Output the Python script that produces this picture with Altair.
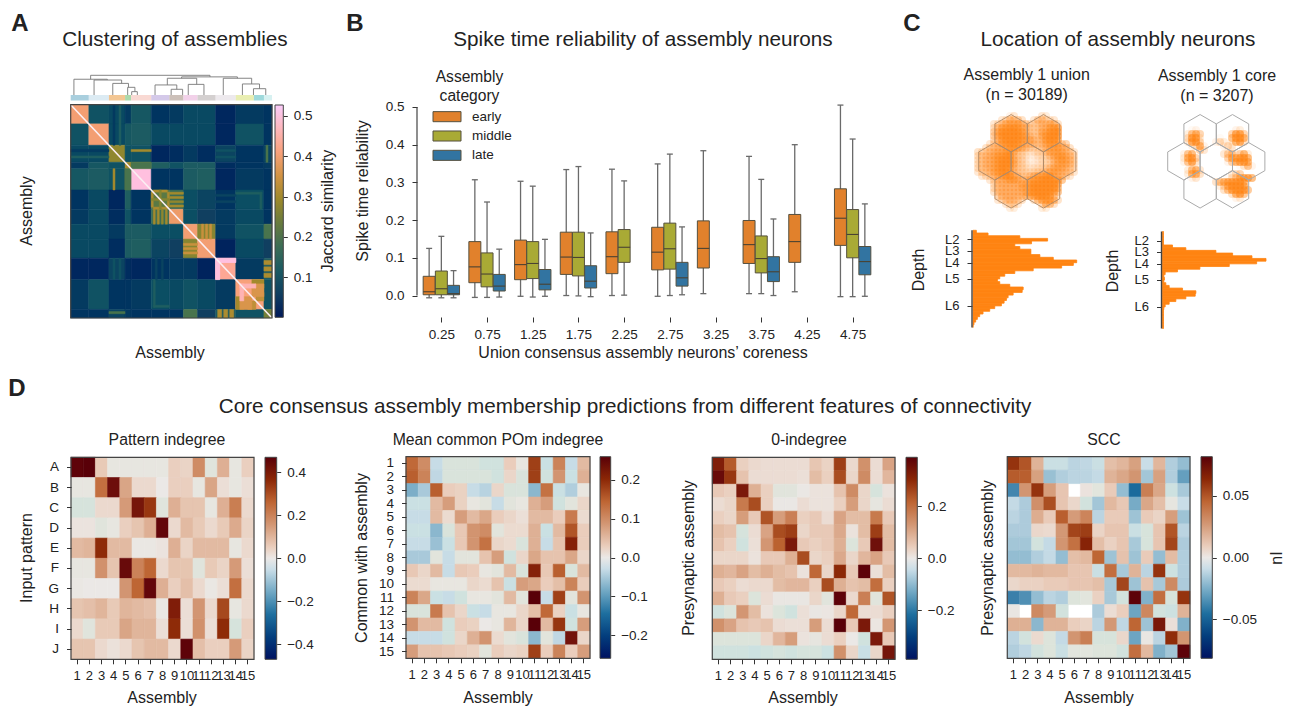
import math
import altair as alt

FONT = "Liberation Sans"
INK = "#222222"
W, H = 1276, 699

# ---------- Panel A ----------
a_bounds = [0, 9, 19, 27, 30, 40, 49, 56, 63, 72, 82, 96, 100]
a_upper = [
    [.40, .10, .08, .05, .11, .04, .05, .08, .08, .02, .05, .04],
    [None, .40, .08, .11, .12, .08, .08, .08, .08, .02, .10, .04],
    [None, None, .28, .10, .10, .02, .03, .05, .03, .07, .04, .07],
    [None, None, None, .30, .28, .13, .10, .12, .12, .03, .04, .05],
    [None, None, None, None, .50, .04, .04, .12, .13, .02, .05, .04],
    [None, None, None, None, None, .22, .17, .09, .07, .04, .09, .04],
    [None, None, None, None, None, None, .39, .09, .06, .05, .08, .04],
    [None, None, None, None, None, None, None, .40, .27, .05, .10, .20],
    [None, None, None, None, None, None, None, None, .40, .015, .08, .06],
    [None, None, None, None, None, None, None, None, None, .43, .05, .12],
    [None, None, None, None, None, None, None, None, None, None, .41, .10],
    [None, None, None, None, None, None, None, None, None, None, None, .25],
]
a_stripes = [
    (30, 40, 21, 22, .30), (41, 48, 40, 41, .31), (41, 48, 48, 49, .31), (40, 49, 44, 45, .27),
    (49, 56, 41, 42, .30), (49, 56, 43, 44, .30), (49, 56, 45, 46, .28), (49, 56, 47, 48, .30),
    (65, 66, 56, 63, .34), (67, 68, 56, 63, .34), (69, 70, 56, 63, .34),
    (72, 74, 72, 82, .50), (74, 82, 72, 74, .50),
    (82, 86, 90, 96, .30), (88, 92, 92, 96, .33), (90, 96, 84, 90, .36), (84, 92, 84, 86, .46),
    (96, 100, 73, 75, .31), (96, 100, 76, 78, .31), (96, 100, 79, 81, .31),
    (19, 27, 97, 98, .20), (0, 19, 21, 22, .05), (0, 19, 24, 25, .13),
    (21, 22, 72, 82, .10), (24, 25, 72, 82, .10), (42, 43, 72, 82, .07), (45, 46, 72, 82, .07),
    (27, 30, 30, 40, .20), (82, 95, 41, 42, .13), (94, 95, 41, 49, .13),
]
batlow = ["#011959", "#103F60", "#1C5A62", "#3C6D56", "#687B3E", "#9D892B", "#D29343", "#F8A17B", "#FDB7BC", "#FACCFA"]
even_10 = [i / 9 for i in range(10)]
a_domain = [0.001, 0.5265]
a_ticks = [.1, .2, .3, .4, .5]

# dendrogram nodes: left x, right x, height, left child height, right child height
dendro_nodes = [
    (9.9, 69.2, 1, .8, .92), (1.6, 18.2, .8, 0, .76), (11.6, 25.3, .76, 0, .59), (20.9, 28.7, .59, 0, .39),
    (28.3, 31.9, .39, 0, .17), (30.3, 33.1, .17, 0, 0), (55.1, 82.8, .92, .85, .85), (48, 62.6, .85, .51, .54),
    (41.9, 52.7, .51, 0, .29), (49.9, 55.6, .29, 0, 0), (58.4, 66.2, .54, 0, 0), (75.8, 89.9, .85, 0, .56),
    (85.3, 93.8, .56, 0, .32), (90.8, 96.9, .32, 0, 0),
]
leaf_bounds = [0, 9, 19, 27, 30, 40, 49, 56, 63, 72, 82, 91, 96, 100]
leaf_colors = ["#93c3d6", "#d3e6f0", "#f0b878", "#96d096", "#f8cfc8", "#c9bbe4", "#bfb0a8", "#efc6e4",
               "#c9c4c4", "#e9e4e9", "#e3ea9f", "#86d0d2", "#cdeeee"]

# ---------- Panel B ----------
box_bins = [.25, .25, .25, .75, .75, .75, 1.25, 1.25, 1.25, 1.75, 1.75, 1.75, 2.25, 2.25, 2.75, 2.75, 2.75,
            3.25, 3.75, 3.75, 3.75, 4.25, 4.75, 4.75, 4.75]
box_cats = ["early", "middle", "late", "early", "middle", "late", "early", "middle", "late", "early", "middle", "late",
            "early", "middle", "early", "middle", "late", "early", "early", "middle", "late", "early",
            "early", "middle", "late"]
box_low = [-.006, -.006, -.006, -.005, -.005, -.004, -.002, -.004, -.002, 0, -.001, -.003, 0, .001, -.002, 0, .002,
           .005, .005, .005, 0, .01, -.003, -.003, -.002]
box_q1 = [.002, .002, .002, .034, .023, .012, .042, .045, .015, .056, .052, .02, .058, .088, .068, .07, .025,
          .073, .085, .06, .037, .088, .133, .1, .055]
box_med = [.01, .018, .005, .076, .057, .025, .082, .085, .03, .102, .101, .038, .103, .128, .115, .124, .047,
           .125, .135, .098, .063, .143, .205, .162, .09]
box_q3 = [.051, .065, .027, .143, .113, .056, .147, .143, .069, .168, .168, .079, .169, .175, .181, .192, .088,
          .198, .199, .158, .103, .215, .283, .228, .13]
box_high = [.125, .157, .066, .307, .248, .123, .303, .29, .149, .334, .342, .166, .335, .304, .349, .375, .182,
            .384, .369, .308, .203, .4, .505, .415, .243]
cat_names = ["early", "middle", "late"]
cat_colors = ["#e1812c", "#a9aa35", "#3274a1"]
bin_ticks = [.25, .75, 1.25, 1.75, 2.25, 2.75, 3.25, 3.75, 4.25, 4.75]

# ---------- Panel C ----------
union_density = [
    "........24......43........",
    "......457665..466544......",
    "....45677786654566775.....",
    "....56889987654566889.....",
    "....67999998654577999.....",
    "....67999998765578999.....",
    "....56899998776568998.....",
    "...45688998766656788766...",
    "..5566678887654456778665..",
    "5556677887543234467777654.",
    "5566788996543123346788765.",
    "5566789997542112334678765.",
    "5566789997543122334677765.",
    "5566789986543233456777654.",
    "4556789976544345567776654.",
    ".45567899765567889976654..",
    "...4566788766788999987....",
    "....56666667789999998.....",
    "....55666667789999997.....",
    "....56666666789999987.....",
    ".....566666678899986......",
    ".....4566655..5788875.....",
    ".......4554.....5775......",
    "........33......33........",
]
core_density = [
    "",
    "",
    "",
    "",
    "",
    ".......12.........23",
    "......3786.......6996",
    "......5993....1..7998",
    "......4996...253.3895",
    ".......2582....253",
    "........164.....12",
    ".....278.......4672683",
    ".....3896.......688998",
    ".....2795.......268998",
    ".......2...........1472",
    "......3784",
    "......3885.......356",
    ".......24.......1468998",
    ".............57899998",
    "..............3589999",
    "...............5799997",
    ".................5897",
    "..................23",
]
hex_union = [(-1, -2), (1, -2), (-2, 0), (0, 0), (2, 0), (-1, 2), (1, 2)]
hist_union = [10, 45, 140, 223, 175, 125, 140, 173, 173, 200, 240, 310, 300, 265, 180, 125, 95, 80, 73, 80, 110, 150,
              147, 120, 105, 100, 93, 85, 65, 50, 30, 20, 13, 8, 3, 0]
hist_core = [3, 3, 3, 3, 3, 30, 70, 160, 210, 268, 310, 282, 200, 112, 45, 8, 4, 6, 4, 10, 20, 60, 100, 98, 70, 40, 20,
             8, 4, 3, 3, 3, 3, 3, 3, 3]
layer_names = ["L2", "L3", "L4", "L5", "L6"]
layer_depths = [3.4, 7.6, 12, 17.9, 28]

# ---------- Panel D ----------
vik = ["#001261", "#033E7D", "#1E6F9F", "#71A8C4", "#C9DDE7", "#EBE8E6", "#EACEBD", "#D39774", "#BE6533", "#8B2706", "#590008"]
vik_pos = [0, 1 / 9, 2 / 9, 3 / 9, 4 / 9, .5, 5 / 9, 6 / 9, 7 / 9, 8 / 9, 1]
assemblies = [str(i) for i in range(1, 16)]
patterns = list("ABCDEFGHIJ")
pattern_indegree = [
    [.46, .47, .06, -.01, -.01, -.01, -.01, -.01, .05, .04, .18, -.02, .11, -.01, .05],
    [-.01, -.01, .24, .43, .13, .03, .03, 0, .05, .05, -.01, .13, .02, -.01, .02],
    [-.03, -.03, .03, .03, .15, .41, .34, -.02, .11, .07, .07, -.01, .11, .21, .03],
    [.01, .01, -.02, -.01, .05, .07, .11, .45, .03, .09, .06, .03, .06, .12, .04],
    [.09, .10, .36, .09, .09, -.005, -.005, .01, .11, .04, .09, .09, .09, -.01, .03],
    [-.01, -.01, .17, .07, .44, .20, .26, .03, .07, .07, -.02, .06, .04, .15, .02],
    [-.005, 0, 0, 0, .16, .26, .45, .11, .05, .08, .03, -.005, .02, .24, .03],
    [.07, .08, .10, .06, .10, .09, .08, -.005, .39, .02, .16, .03, .31, -.01, .03],
    [.03, -.02, .06, .06, .13, .10, .10, .02, .36, .02, .17, .02, .36, -.03, .05],
    [.07, .07, .03, .015, .03, .07, .09, .09, .03, .46, .08, .05, .05, .15, .04],
]
pom_indegree = [
    [.14, .10, -.03, -.015, -.015, -.015, -.02, -.02, .03, -.005, .18, -.025, .11, -.03, .05],
    [.15, .11, -.035, -.015, -.015, -.015, -.015, -.02, .02, -.015, .18, -.02, .09, -.025, .06],
    [-.08, -.05, .15, .03, .025, -.03, -.04, .02, -.015, -.015, -.07, .13, -.025, -.045, -.005],
    [-.025, -.025, .05, .08, .025, -.005, -.01, -.03, -.01, -.005, .06, .08, -.02, -.01, .02],
    [-.03, -.03, .05, .015, .08, .05, .07, .03, .02, .01, .05, .05, .03, .12, .015],
    [-.025, -.025, -.07, -.015, .035, .09, .10, -.01, .015, .015, .06, -.025, .05, .16, .03],
    [-.03, -.03, -.06, -.025, .035, .09, .13, .02, .015, -.015, .06, -.03, .04, .21, .03],
    [-.05, -.05, -.01, -.03, -.01, -.01, .04, .08, -.02, .02, .07, .04, .04, .07, .02],
    [.035, .02, .05, -.03, .035, .03, -.005, -.01, .05, -.015, .21, .035, .15, -.015, .05],
    [.015, .015, -.005, -.005, -.005, .02, .015, .04, -.025, .08, .07, .03, .045, .11, .03],
    [.11, .07, -.025, -.03, -.02, -.005, -.005, -.01, .05, -.01, .26, -.03, .18, -.01, .09],
    [-.015, -.015, .12, .04, .02, -.025, -.03, -.005, -.005, .02, .045, .14, .025, -.025, -.005],
    [.09, .05, .05, -.02, .03, .025, 0, -.005, .055, .02, .26, .05, .19, -.02, .08],
    [-.03, -.03, -.03, -.02, .02, .06, .09, .015, -.01, -.015, -.07, -.01, -.035, .23, .02],
    [.08, .04, .04, .035, .03, .025, -.01, .03, .02, .025, .18, .03, .11, .03, .08],
]
zero_indegree = [
    [.32, .23, .04, .025, .02, .02, .02, .02, .055, .035, .27, .025, .14, .02, .11],
    [.36, .28, .06, .02, .02, .02, .02, .015, .07, .04, .25, .03, .15, .02, .08],
    [.05, .04, .33, .09, .04, -.015, -.015, -.002, .01, .01, .06, .15, .03, -.025, .01],
    [.02, .03, .18, .25, .04, -.002, -.002, .02, .01, .01, .04, .12, .03, -.01, .02],
    [.04, .03, .12, .05, .24, .12, .17, .04, .05, .02, .11, .07, .07, .18, .05],
    [.07, .06, -.025, .02, .11, .25, .27, .03, .05, .05, .10, .01, .07, .27, .07],
    [.06, .04, -.03, .015, .13, .22, .33, .05, .04, .05, .09, -.02, .05, .35, .07],
    [.03, .03, .03, .01, .05, .05, .09, .25, .03, .04, .10, .03, .08, .11, .05],
    [.09, .08, .11, .07, .09, .07, .06, .01, .21, .03, .30, .05, .38, .015, .07],
    [.05, .04, .02, .025, .025, .07, .08, .08, .04, .25, .09, .06, .07, .20, .04],
    [.09, .05, .04, -.02, .02, -.005, -.005, -.005, .03, -.015, .38, .025, .17, -.015, .24],
    [-.03, -.02, .13, .07, .01, -.02, -.03, .015, -.005, .005, .03, .21, .02, .02, .04],
    [.14, .11, .06, .05, .06, .02, .015, .015, .12, .02, .39, .05, .33, .005, .13],
    [-.02, -.02, -.02, -.02, .03, .08, .12, .01, -.01, .02, .04, 0, -.03, .33, .05],
    [-.03, -.03, -.03, -.035, -.03, -.025, -.03, -.025, -.025, -.035, .14, .03, -.04, .03, .34],
]
scc_values = [
    [.06, .05, .018, -.008, -.008, -.012, -.011, -.008, .014, .017, .024, -.009, .017, -.014, -.02],
    [.048, .047, .024, -.019, -.014, -.012, -.012, -.01, .018, .022, .028, -.017, .024, -.014, -.03],
    [-.038, .028, .06, .025, .012, None, .002, -.003, .01, -.02, -.047, .036, .022, -.007, -.016],
    [-.01, -.015, .03, .052, .012, .006, -.006, -.017, .016, .011, -.026, .022, .014, -.002, -.009],
    [-.012, -.015, .02, .01, .047, .026, .034, -.012, .01, .01, -.018, .01, .007, .025, -.018],
    [-.015, -.015, .006, .005, .027, .055, .057, .007, .012, .012, -.008, -.005, .012, .05, -.012],
    [-.017, -.017, -.006, -.01, .028, .041, .065, .014, .008, .012, -.016, -.005, .012, .055, -.015],
    [-.02, -.02, -.014, -.01, -.02, .014, .016, .045, -.018, .013, -.018, .01, -.02, .015, -.014],
    [.016, .016, .018, .016, .016, .012, .012, -.008, .042, -.016, .018, -.012, .06, -.007, -.014],
    [.006, .008, .008, .01, .01, .012, .012, .014, -.016, .055, -.018, .013, -.016, .032, -.015],
    [-.04, -.035, -.02, -.012, -.014, -.004, -.003, .008, -.016, -.006, .08, -.024, .042, -.005, .06],
    [-.001, None, .032, .026, -.006, None, None, -.015, .004, .009, -.028, .033, -.006, -.007, .018],
    [.019, .019, -.022, .018, .018, .009, .007, -.012, .027, -.011, .045, -.018, .07, .003, -.024],
    [-.012, -.006, .005, -.004, -.01, .028, .036, -.005, -.005, .006, -.028, -.001, -.012, .062, .028],
    [-.014, -.011, -.006, -.004, -.008, -.003, -.003, -.004, -.004, -.006, .042, .016, -.024, -.017, .08],
]


# ---------- helpers ----------
def rng(a, b, domain, **kw):
    """Scale placing a domain between two page pixels."""
    return alt.Scale(domain=domain, range=[a - 8, b - 8], **kw)


def data(rows):
    return alt.Data(values=rows)


def axis(orient, pos, size=13.5, ticksize=4, pad=3, **kw):
    offs = {"left": -(pos - 8), "right": (pos - 8) - W, "bottom": (pos - 8) - H}[orient]
    return alt.Axis(orient=orient, offset=offs, domain=False, grid=False, title=None, tickSize=ticksize,
                    tickColor="#333333", tickWidth=1, labelFont=FONT, labelFontSize=size, labelColor=INK,
                    labelPadding=pad, labelOverlap=False, labelFlush=False, **kw)


def txt(s, x, y, size=16, angle=0, weight="normal", align="center"):
    return alt.Chart(data([{"t": s}])).mark_text(
        font=FONT, fontSize=size, angle=angle, fontWeight=weight, align=align, baseline="middle", color=INK
    ).encode(text="t:N", x=alt.value(x - 8), y=alt.value(y - 8))


def frame(x0, x1, y0, y1, color="#444444", width=1.2):
    return alt.Chart(data([{"a": 0}])).mark_rect(filled=False, stroke=color, strokeWidth=width).encode(
        x=alt.value(x0 - 8), x2=alt.value(x1 - 8), y=alt.value(y0 - 8), y2=alt.value(y1 - 8))


def color_scale(lo, hi, colors, pos):
    return alt.Scale(domain=[lo + (hi - lo) * p for p in pos], range=colors, clamp=True)


def colorbar(x0, x1, y0, y1, lo, hi, colors, pos, ticks, fmt):
    grad = {"gradient": "linear", "x1": 0, "x2": 0, "y1": 1, "y2": 0,
            "stops": [{"offset": p, "color": c} for p, c in zip(pos, colors)]}
    labels = ("datum.value < 0 ? '\u2212' + format(-datum.value, '%s') : format(datum.value, '%s')" % (fmt, fmt))
    return alt.Chart(data([{"lo": lo, "hi": hi}])).mark_rect(fill=grad, stroke="#444444", strokeWidth=1).encode(
        x=alt.value(x0 - 8), x2=alt.value(x1 - 8),
        y=alt.Y("lo:Q", scale=rng(y1, y0, [lo, hi]),
                axis=axis("right", x1, size=13.5, ticksize=4, pad=6, values=ticks, labelExpr=labels)),
        y2="hi:Q")


def heatmap(matrix, rows, x0, x1, y0, y1, lim, ylabels):
    cells = [{"r": rows[i], "c": assemblies[j], "v": v}
             for i, row in enumerate(matrix) for j, v in enumerate(row) if v is not None]
    yaxis = axis("left", x0, size=13.5, ticksize=4.5, pad=8) if ylabels else None
    scale = color_scale(-lim, lim, vik, vik_pos)
    return [
        alt.Chart(data(cells)).mark_rect(strokeWidth=.6).encode(
            x=alt.X("c:N", scale=rng(x0, x1, assemblies, paddingInner=0, paddingOuter=0),
                    axis=axis("bottom", y1, size=13, ticksize=4.5, pad=6, labelAngle=0)),
            y=alt.Y("r:N", scale=rng(y0, y1, rows, paddingInner=0, paddingOuter=0), axis=yaxis),
            color=alt.Color("v:Q", scale=scale, legend=None),
            stroke=alt.Stroke("v:Q", scale=scale, legend=None),
        ),
        frame(x0, x1, y0, y1),
    ]


layers = []

# ---------- Panel letters and titles ----------
TITLE = 20.7
layers += [
    txt("A", 20, 24, 24, weight="bold"), txt("B", 355, 24, 24, weight="bold"),
    txt("C", 912, 24, 24, weight="bold"), txt("D", 17, 389, 24, weight="bold"),
    txt("Clustering of assemblies", 175, 40, TITLE),
    txt("Spike time reliability of assembly neurons", 643, 40, TITLE),
    txt("Location of assembly neurons", 1118, 40, TITLE),
    txt("Core consensus assembly membership predictions from different features of connectivity", 625, 407, TITLE),
]

# ---------- Panel A drawing ----------
AX0, AX1, AY0, AY1 = 70.7, 272, 104.7, 318
ax_scale = rng(AX0, AX1, [0, 100])
ay_scale = rng(AY0, AY1, [0, 100])
blocks = []
for i in range(12):
    for j in range(i, 12):
        v = a_upper[i][j]
        blocks.append({"x": a_bounds[j], "x2": a_bounds[j + 1], "y": a_bounds[i], "y2": a_bounds[i + 1], "v": v})
        if i != j:
            blocks.append({"x": a_bounds[i], "x2": a_bounds[i + 1], "y": a_bounds[j], "y2": a_bounds[j + 1], "v": v})
for a, b, c, d, v in a_stripes:
    blocks.append({"x": a, "x2": b, "y": c, "y2": d, "v": v})
    blocks.append({"x": c, "x2": d, "y": a, "y2": b, "v": v})
a_color = color_scale(a_domain[0], a_domain[1], batlow, even_10)
layers.append(alt.Chart(data(blocks)).mark_rect(strokeWidth=.5).encode(
    x=alt.X("x:Q", scale=ax_scale, axis=None), x2="x2:Q",
    y=alt.Y("y:Q", scale=ay_scale, axis=None), y2="y2:Q",
    color=alt.Color("v:Q", scale=a_color, legend=None),
    stroke=alt.Stroke("v:Q", scale=a_color, legend=None)))
layers.append(alt.Chart(data([{"p": 0}, {"p": 100}])).mark_line(color="#fbeef2", strokeWidth=1.6).encode(
    x=alt.X("p:Q", scale=ax_scale, axis=None), y=alt.Y("p:Q", scale=ay_scale, axis=None)))
layers.append(frame(AX0, AX1, AY0, AY1))
layers.append(colorbar(275, 283.3, 105, 317.3, a_domain[0], a_domain[1], batlow, even_10, a_ticks, ".1f"))

# dendrogram
dend_y = rng(95, 75.3, [0, 1])
segs = []
for l, r, h, hl, hr in dendro_nodes:
    segs += [{"x": l, "x2": r, "y": h, "y2": h}, {"x": l, "x2": l, "y": h, "y2": hl}, {"x": r, "x2": r, "y": h, "y2": hr}]
leaf_rows = [{"x": leaf_bounds[i], "x2": leaf_bounds[i + 1], "k": str(i), "y": -.28, "y2": 0}
             for i in range(len(leaf_colors))]
layers.append(alt.Chart(data(leaf_rows)).mark_rect(opacity=.8).encode(
    x=alt.X("x:Q", scale=ax_scale, axis=None), x2="x2:Q",
    y=alt.Y("y:Q", scale=dend_y, axis=None), y2="y2:Q",
    color=alt.Color("k:N", scale=alt.Scale(domain=[str(i) for i in range(len(leaf_colors))], range=leaf_colors),
                    legend=None)))
layers.append(alt.Chart(data(segs)).mark_rule(color="#777777", strokeWidth=.9).encode(
    x=alt.X("x:Q", scale=ax_scale, axis=None), x2="x2:Q",
    y=alt.Y("y:Q", scale=dend_y, axis=None), y2="y2:Q"))
layers += [txt("Assembly", 27, 211, angle=270), txt("Assembly", 170, 353),
           txt("Jaccard similarity", 328, 211, angle=270)]

# ---------- Panel B drawing ----------
BX = rng(418.5, 875.5, [0, 5])
BY = rng(316.5, 100, [-.0556, .5185])
BW = .131
boxes = []
for b, c, lo, q1, m, q3, hi in zip(box_bins, box_cats, box_low, box_q1, box_med, box_q3, box_high):
    cx = b + (cat_names.index(c) - 1) * .1335
    boxes.append({"cat": c, "cx": cx, "l": cx - BW / 2, "r": cx + BW / 2, "cl": cx - BW / 4, "cr": cx + BW / 4,
                  "lo": lo, "q1": q1, "m": m, "q3": q3, "hi": hi})
box_src = data(boxes)
whisk = dict(color="#6a6a6a", strokeWidth=1.3)
layers.append(alt.Chart(box_src).mark_rule(**whisk).encode(
    x=alt.X("cx:Q", scale=BX, axis=axis("bottom", 317, ticksize=5, pad=5, values=bin_ticks, format=".2f")),
    y=alt.Y("lo:Q", scale=BY, axis=axis("left", 417, ticksize=5, pad=8, values=[0, .1, .2, .3, .4, .5], format=".1f")),
    y2="hi:Q"))
for key in ("lo", "hi"):
    layers.append(alt.Chart(box_src).mark_rule(**whisk).encode(
        x=alt.X("cl:Q", scale=BX, axis=None), x2="cr:Q", y=alt.Y(f"{key}:Q", scale=BY, axis=None)))
cat_color = alt.Scale(domain=cat_names, range=cat_colors)
layers.append(alt.Chart(box_src).mark_rect(stroke="#55503f", strokeWidth=1).encode(
    x=alt.X("l:Q", scale=BX, axis=None), x2="r:Q",
    y=alt.Y("q1:Q", scale=BY, axis=None), y2="q3:Q",
    color=alt.Color("cat:N", scale=cat_color, legend=None)))
layers.append(alt.Chart(box_src).mark_rule(color="#4a4232", strokeWidth=1.1).encode(
    x=alt.X("l:Q", scale=BX, axis=None), x2="r:Q", y=alt.Y("m:Q", scale=BY, axis=None)))
layers.append(alt.Chart(data([{"a": 0, "b": .5}])).mark_rule(color="#444444", strokeWidth=1.2).encode(
    x=alt.value(417 - 8), y=alt.Y("a:Q", scale=BY, axis=None), y2="b:Q"))
# legend
cat_rows = [{"cat": c} for c in cat_names]
LEG_Y = rng(107, 165, cat_names, paddingInner=.48, paddingOuter=.24)
layers.append(alt.Chart(data(cat_rows)).mark_rect(stroke="#55503f", strokeWidth=1).encode(
    x=alt.value(433 - 8), x2=alt.value(461 - 8),
    y=alt.Y("cat:N", scale=LEG_Y, axis=None),
    color=alt.Color("cat:N", scale=cat_color, legend=None)))
layers.append(alt.Chart(data(cat_rows)).mark_text(font=FONT, fontSize=13.5, align="left", baseline="middle", color=INK).encode(
    x=alt.value(472 - 8), y=alt.Y("cat:N", scale=LEG_Y, axis=None), text="cat:N"))
layers += [txt("Assembly", 469.5, 77, 15.6), txt("category", 469.5, 96, 15.6),
           txt("Spike time reliability", 363, 191, angle=270),
           txt("Union consensus assembly neurons\u2019 coreness", 643, 353)]


# ---------- Panel C drawing ----------
def density_layer(rows, x0, y0, ncols, nrows):
    cells = [{"x": j + .5, "y": i + .5, "v": int(ch)}
             for i, row in enumerate(rows) for j, ch in enumerate(row) if ch != "."]
    return alt.Chart(data(cells)).mark_circle(color="#ff8412", size=64).encode(
        x=alt.X("x:Q", scale=rng(x0, x0 + 4 * ncols, [0, ncols]), axis=None),
        y=alt.Y("y:Q", scale=rng(y0, y0 + 4 * nrows, [0, nrows]), axis=None),
        opacity=alt.Opacity("v:Q", scale=alt.Scale(domain=[0, 5, 9], range=[0, .22, .6]), legend=None))


def hex_layer(cx, cy, color, width):
    pts = []
    for k, (q, r) in enumerate(hex_union):
        for a in range(7):
            ang = math.radians(60 * a - 90)
            pts.append({"h": k, "o": a, "x": q * math.sqrt(3) / 2 + math.cos(ang), "y": r * .75 + math.sin(ang)})
    R = 18.7
    return alt.Chart(data(pts)).mark_line(color=color, strokeWidth=width).encode(
        x=alt.X("x:Q", scale=rng(cx - 3 * R, cx + 3 * R, [-3, 3]), axis=None),
        y=alt.Y("y:Q", scale=rng(cy - 3 * R, cy + 3 * R, [-3, 3]), axis=None),
        detail="h:N", order="o:Q")


def hist_layers(counts, x0, x1, y0, y1):
    rows = [{"a": i, "b": i + 1, "n": n, "z": 0} for i, n in enumerate(counts)]
    ys = rng(y0, y1, [0, len(counts)])
    expr = " : ".join(f"datum.value == {d} ? '{n}'" for d, n in zip(layer_depths, layer_names)) + " : ''"
    return [
        alt.Chart(data(rows)).mark_rect(color="#ff8412", stroke="#ff8412", strokeWidth=.8).encode(
            x=alt.X("z:Q", scale=rng(x0, x1, [0, 310]), axis=None), x2="n:Q",
            y=alt.Y("a:Q", scale=ys, axis=axis("left", x0 - 1, size=13, ticksize=5, pad=8, values=layer_depths, labelExpr=expr)),
            y2="b:Q"),
        alt.Chart(data([{"a": 0, "b": len(counts)}])).mark_rule(color="#444444", strokeWidth=1.4).encode(
            x=alt.value(x0 - 1 - 8), y=alt.Y("a:Q", scale=ys, axis=None), y2="b:Q"),
    ]


layers.append(density_layer(union_density, 976, 114, 26, 24))
layers.append(hex_layer(1027.3, 161.3, "#b08a68", .9))
layers.append(density_layer(core_density, 1162, 108, 26, 26))
layers.append(hex_layer(1216.3, 161.3, "#aaaaaa", 1))
layers += hist_layers(hist_union, 973, 1076.7, 230.3, 327.5)
layers += hist_layers(hist_core, 1162.5, 1266, 231.5, 328.5)
layers += [
    txt("Assembly 1 union", 1026.7, 75), txt("(n = 30189)", 1026.7, 95),
    txt("Assembly 1 core", 1217, 76), txt("(n = 3207)", 1217, 96),
    txt("Depth", 919, 270, angle=270), txt("Depth", 1113, 271, angle=270),
]

# ---------- Panel D drawing ----------
layers += heatmap(pattern_indegree, patterns, 71, 254, 457.3, 659.3, .47, True)
layers.append(colorbar(265, 276.7, 457.3, 659.3, -.47, .47, vik, vik_pos, [-.4, -.2, 0, .2, .4], ".1f"))
layers += heatmap(pom_indegree, assemblies, 406, 590, 456.7, 658.3, .26, True)
layers.append(colorbar(600, 610.7, 456.7, 658.3, -.26, .26, vik, vik_pos, [-.2, -.1, 0, .1, .2], ".1f"))
layers += heatmap(zero_indegree, assemblies, 712.3, 895, 457.3, 659.3, .387, False)
layers.append(colorbar(906, 917.3, 457.3, 659.3, -.387, .387, vik, vik_pos, [-.2, 0, .2], ".1f"))
layers += heatmap(scc_values, assemblies, 1007.3, 1190, 456.7, 658.3, .0815, False)
layers.append(colorbar(1201, 1212.3, 456.7, 658.3, -.0815, .0815, vik, vik_pos, [-.05, 0, .05], ".2f"))
layers += [
    txt("Pattern indegree", 167, 440, 15.8), txt("Mean common POm indegree", 498, 440, 15.8),
    txt("0-indegree", 809, 440, 15.8), txt("SCC", 1104, 440, 15.8),
    txt("Assembly", 162, 698), txt("Assembly", 498, 698), txt("Assembly", 803, 698), txt("Assembly", 1099, 698),
    txt("Input pattern", 27, 558, angle=270), txt("Common with assembly", 362, 558, angle=270),
    txt("Presynaptic assembly", 689, 558, angle=270), txt("Presynaptic assembly", 988, 558, angle=270),
    txt("nI", 1277, 558, angle=270),
]

chart = alt.layer(*layers).properties(
    width=W, height=H, padding=0, autosize=alt.AutoSizeParams(type="none")
).resolve_scale(x="independent", y="independent", color="independent", stroke="independent",
                opacity="independent").configure_view(stroke=None)

chart.save("out.html", embed_options={"renderer": "svg", "actions": False})
